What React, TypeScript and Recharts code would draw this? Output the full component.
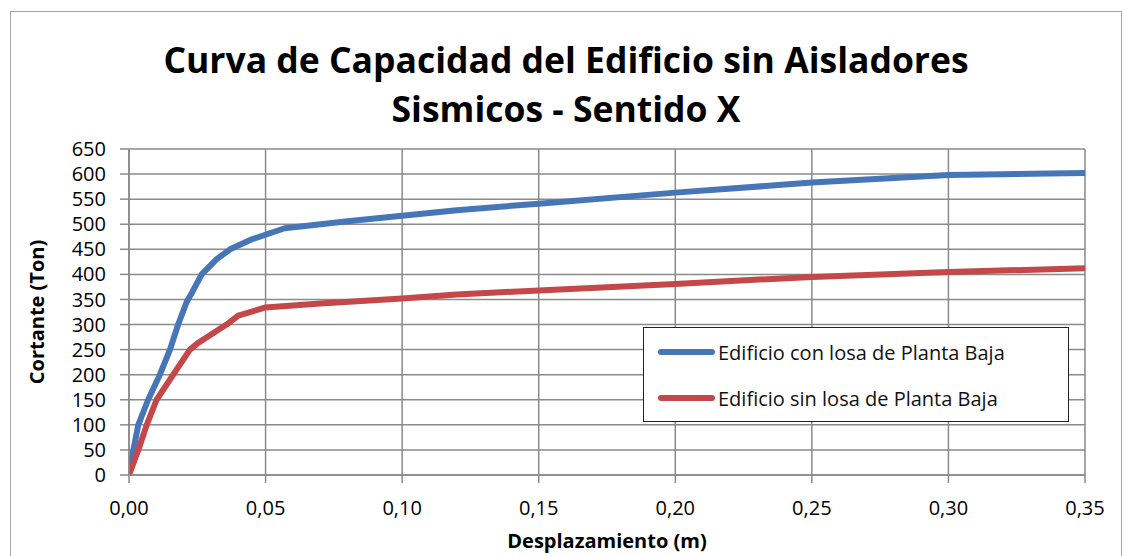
import { LineChart, Line, XAxis, YAxis, CartesianGrid, Label } from "recharts";

// Curva de capacidad: desplazamiento (m) vs cortante (Ton)
const X_TICKS = [0, 0.05, 0.1, 0.15, 0.2, 0.25, 0.3, 0.35];
const Y_TICKS = [0, 50, 100, 150, 200, 250, 300, 350, 400, 450, 500, 550, 600, 650];

const CON_LOSA_X = [0, 0.0016, 0.0034, 0.007, 0.0113, 0.015, 0.018, 0.0211, 0.0232, 0.0266, 0.032, 0.037, 0.045, 0.057, 0.08, 0.1, 0.12, 0.15, 0.2, 0.25, 0.3, 0.35];
const CON_LOSA_V = [0, 50, 100, 150, 200, 250, 300, 345, 365, 400, 430, 450, 470, 492, 506, 517, 528, 541, 563, 583, 598, 602];

const SIN_LOSA_X = [0, 0.0034, 0.0065, 0.0101, 0.0162, 0.0223, 0.025, 0.0357, 0.04, 0.05, 0.07, 0.1, 0.12, 0.15, 0.2, 0.25, 0.3, 0.35];
const SIN_LOSA_V = [0, 50, 100, 150, 200, 250, 262, 300, 318, 334, 342, 352, 360, 368, 381, 395, 405, 412];

const SERIES = [
  { name: "Edificio con losa de Planta Baja", color: "#4675B8", xs: CON_LOSA_X, ys: CON_LOSA_V },
  { name: "Edificio sin losa de Planta Baja", color: "#C4474A", xs: SIN_LOSA_X, ys: SIN_LOSA_V },
];

const FONT = "'Open Sans', 'Noto Sans', sans-serif";
const GRID = "#8a8a8a";

const fmt = (v: number) => v.toFixed(2).replace(".", ",");

function LegendBox() {
  return (
    <div
      style={{
        position: "absolute",
        left: 643,
        top: 327,
        boxSizing: "border-box",
        width: 426,
        height: 95,
        border: "1.5px solid #222",
        background: "#fff",
        padding: "1px 0 0 14px",
        fontFamily: FONT,
        fontSize: 20,
        color: "#111",
      }}
    >
      {SERIES.map((s) => (
        <div key={s.name} style={{ display: "flex", alignItems: "center", height: 46 }}>
          <span
            style={{
              display: "inline-block",
              width: 57,
              height: 6,
              borderRadius: 3,
              background: s.color,
              marginRight: 3,
            }}
          />
          <span>{s.name}</span>
        </div>
      ))}
    </div>
  );
}

export default function App() {
  return (
    <div style={{ position: "absolute", left: 0, top: 0, width: 1126, height: 556, background: "#fff", overflow: "hidden" }}>
      <div
        style={{
          position: "absolute",
          left: 10,
          top: 11,
          width: 1112,
          height: 560,
          border: "1.5px solid #a6a6a6",
          boxSizing: "border-box",
        }}
      />
      <div
        style={{
          position: "absolute",
          left: 0,
          top: 35,
          width: 1132,
          textAlign: "center",
          fontFamily: FONT,
          fontWeight: 700,
          fontSize: 35.5,
          lineHeight: "49px",
          color: "#000",
        }}
      >
        Curva de Capacidad del Edificio sin Aisladores
        <br />
        Sismicos - Sentido X
      </div>
      <div style={{ position: "absolute", left: 0, top: 0 }}>
        <LineChart width={1126} height={556} margin={{ top: 149, right: 41, bottom: 0, left: 29 }}>
          <CartesianGrid stroke={GRID} strokeWidth={1.5} />
          <XAxis
            type="number"
            dataKey="x"
            domain={[0, 0.35]}
            ticks={X_TICKS}
            tickFormatter={fmt}
            allowDataOverflow
            height={81}
            stroke={GRID}
            strokeWidth={1.5}
            tickSize={8}
            tickMargin={18}
            tick={{ fontFamily: FONT, fontSize: 20, fill: "#000" }}
          >
            <Label
              value="Desplazamiento (m)"
              position="insideBottom"
              offset={8}
              style={{ fontFamily: FONT, fontSize: 20, fontWeight: 700, fill: "#000" }}
            />
          </XAxis>
          <YAxis
            type="number"
            domain={[0, 650]}
            ticks={Y_TICKS}
            interval={0}
            width={100}
            stroke={GRID}
            strokeWidth={1.5}
            tickSize={9}
            tickMargin={14}
            tick={{ fontFamily: FONT, fontSize: 20, fill: "#000" }}
          >
            <Label
              value="Cortante (Ton)"
              angle={-90}
              position="insideLeft"
              offset={8}
              style={{ fontFamily: FONT, fontSize: 20, fontWeight: 700, fill: "#000", textAnchor: "middle" }}
            />
          </YAxis>
          {SERIES.map((s) => (
            <Line
              key={s.name}
              name={s.name}
              data={s.xs.map((x, i) => ({ x, y: s.ys[i] }))}
              dataKey="y"
              type="linear"
              stroke={s.color}
              strokeWidth={6}
              strokeLinejoin="round"
              dot={false}
              activeDot={false}
              isAnimationActive={false}
            />
          ))}
        </LineChart>
      </div>
      <LegendBox />
    </div>
  );
}
